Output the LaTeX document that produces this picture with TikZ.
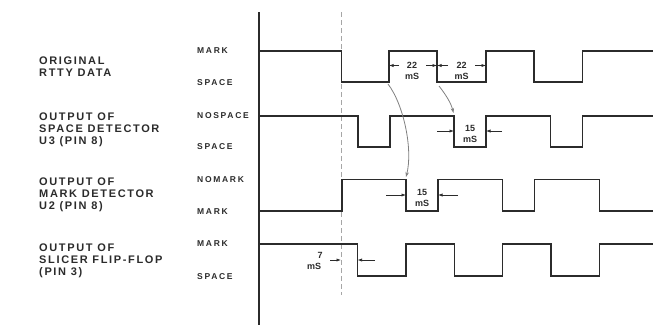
\documentclass[tikz,border=0pt]{standalone}
\usepackage{fontspec}
\setmainfont{Liberation Sans}
\newfontfamily\grpfont[LetterSpace=15]{Liberation Sans}
\newfontfamily\lvlfont[LetterSpace=20]{Liberation Sans}
\usetikzlibrary{arrows.meta}

\definecolor{ink}{HTML}{2B2B2B}

\begin{document}
\begin{tikzpicture}[
    x=1pt, y=-1pt,
    wave/.style={draw=ink, line width=1.1pt, line join=miter},
    axis/.style={draw=ink, line width=1.3pt},
    guide/.style={draw=gray!70, line width=0.8pt, dash pattern=on 5pt off 3pt},
    cause/.style={draw=gray, line width=0.8pt, -{Stealth[length=5pt, width=3.5pt]}},
    dimarrow/.style={draw=ink, line width=0.7pt, -{Latex[length=4.5pt, width=3.2pt]}},
    grp/.style={anchor=west, inner sep=0pt, align=left, font=\grpfont\bfseries\fontsize{11}{11.8}\selectfont, text=ink},
    lvl/.style={anchor=west, inner sep=0pt, font=\lvlfont\bfseries\fontsize{8.5}{9}\selectfont, text=ink},
    dimtext/.style={inner sep=0pt, font=\bfseries\fontsize{9}{10}\selectfont, text=ink}
]
    \useasboundingbox (0,0) rectangle (653,325);

    % signal names
    \node[grp] (orig) at (39,67) {ORIGINAL\\RTTY DATA};
    \node[grp] (spcdet) at (39,130) {OUTPUT OF\\SPACE DETECTOR\\U3 (PIN 8)};
    \node[grp] (mrkdet) at (39,195) {OUTPUT OF\\MARK DETECTOR\\U2 (PIN 8)};
    \node[grp] (slicer) at (39,261) {OUTPUT OF\\SLICER FLIP-FLOP\\(PIN 3)};

    % logic levels
    \node[lvl] (origHi) at (197,51) {MARK};
    \node[lvl] (origLo) at (197,82.5) {SPACE};
    \node[lvl] (spcHi) at (197,116) {NOSPACE};
    \node[lvl] (spcLo) at (197,147) {SPACE};
    \node[lvl] (mrkHi) at (197,179.5) {NOMARK};
    \node[lvl] (mrkLo) at (197,211.5) {MARK};
    \node[lvl] (slcHi) at (197,244) {MARK};
    \node[lvl] (slcLo) at (197,276.5) {SPACE};

    % time axis and start line
    \draw[axis] (259,12) -- (259,325);
    \draw[guide] (341,12) -- (341,295);

    % waveforms
    \draw[wave] (259,51) -| (341.5,82) -| (389,51) -| (437,82) -| (486,51) -| (534,82) -| (582.5,51) -- (653,51);
    \draw[wave] (259,116) -| (358,147) -| (390,116) -| (454,147) -| (486,116) -| (550.5,147) -| (582.5,116) -- (653,116);
    \draw[wave] (259,211) -| (342,179.5) -| (406,211) -| (438,179.5) -| (502.5,211) -| (534.5,179.5) -| (599.5,211) -- (653,211);
    \draw[wave] (259,244) -| (357.5,276) -| (406,244) -| (454.5,276) -| (502.5,244) -| (551,276) -| (599.5,244) -- (653,244);

    % cause and effect
    \coordinate (riseA) at (388,84);
    \coordinate (fallB) at (406,177);
    \coordinate (fallA) at (439,86);
    \coordinate (fallC) at (453.5,113);
    \draw[cause] (riseA) .. controls (404,105) and (413,150) .. (fallB);
    \draw[cause] (fallA) .. controls (446,95) and (451,103) .. (fallC);

    % bit times
    \coordinate (d1a) at (389,65.5);
    \coordinate (d1b) at (437,65.5);
    \coordinate (d1c) at (486,65.5);
    \draw[dimarrow] (399,65.5) -- (d1a);
    \draw[dimarrow] (426,65.5) -- (d1b);
    \draw[dimarrow] (448,65.5) -- (d1b);
    \draw[dimarrow] (475,65.5) -- (d1c);
    \node[dimtext] (bitA) at (412,65.5) {22};
    \node[dimtext] (bitAu) at (412,76.5) {mS};
    \node[dimtext] (bitB) at (461.5,65.5) {22};
    \node[dimtext] (bitBu) at (461.5,76.5) {mS};

    % detector delays
    \coordinate (d2a) at (454,131);
    \coordinate (d2b) at (486,131);
    \draw[dimarrow] (437,131) -- (d2a);
    \draw[dimarrow] (502,131) -- (d2b);
    \node[dimtext] (spcT) at (470,128) {15};
    \node[dimtext] (spcTu) at (470,139.5) {mS};

    \coordinate (d3a) at (406,195);
    \coordinate (d3b) at (438,195);
    \draw[dimarrow] (386,195) -- (d3a);
    \draw[dimarrow] (458,195) -- (d3b);
    \node[dimtext] (mrkT) at (422,192) {15};
    \node[dimtext] (mrkTu) at (422,203) {mS};

    % slicer delay
    \coordinate (d4a) at (341,260);
    \coordinate (d4b) at (357.5,260);
    \draw[dimarrow] (330,260) -- (d4a);
    \draw[dimarrow] (375,260) -- (d4b);
    \node[dimtext] (slcT) at (320,255) {7};
    \node[dimtext] (slcTu) at (314,266) {mS};
\end{tikzpicture}
\end{document}
